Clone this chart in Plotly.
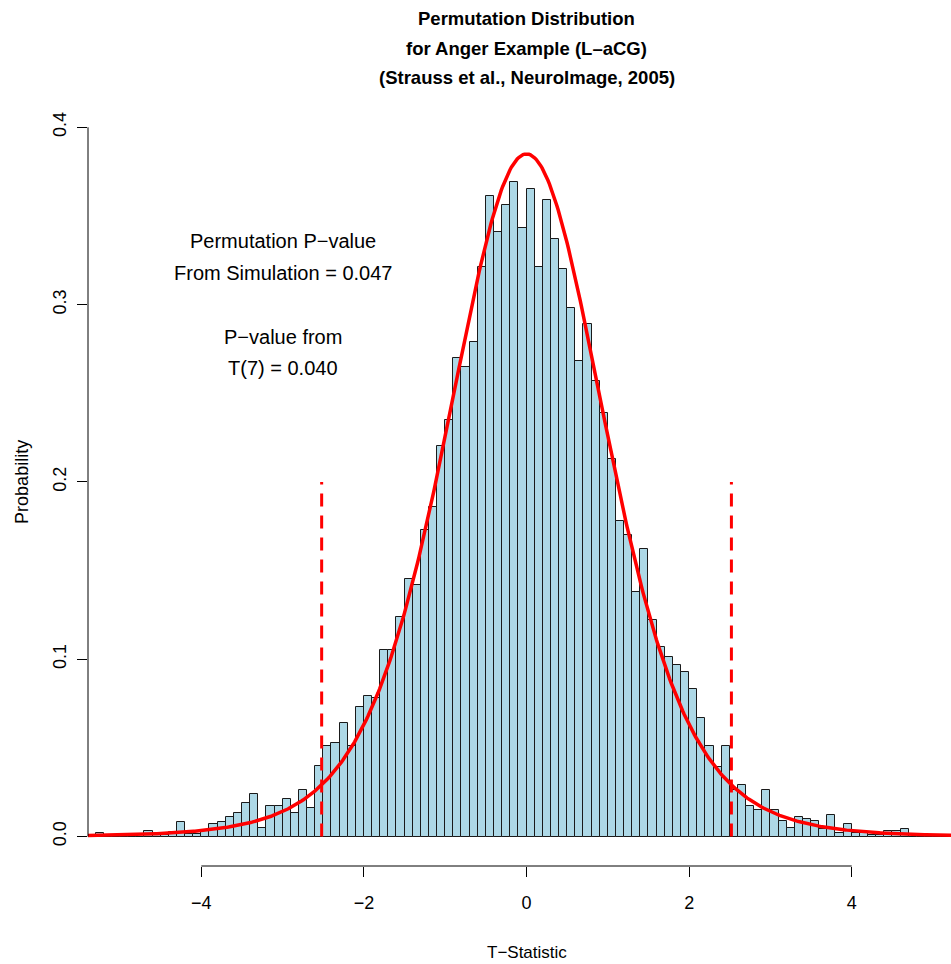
import math
import numpy as np
import plotly.graph_objects as go

# Permutation histogram: bins of width 0.1 starting at -5.3
BIN_START = -5.3
BIN_WIDTH = 0.1
probability = [
    0.002, 0.0, 0.0, 0.0, 0.0, 0.0, 0.003, 0.001, 0.001, 0.0025,   # -5.3 .. -4.4
    0.008, 0.0013, 0.0015, 0.0033, 0.007, 0.008, 0.011, 0.013, 0.019, 0.024,  # -4.3 .. -3.4
    0.0047, 0.017, 0.017, 0.021, 0.013, 0.026, 0.016, 0.040, 0.051, 0.053,  # -3.3 .. -2.4
    0.064, 0.051, 0.073, 0.079, 0.078, 0.105, 0.105, 0.124, 0.145, 0.142,  # -2.3 .. -1.4
    0.173, 0.186, 0.220, 0.235, 0.270, 0.265, 0.279, 0.321, 0.361, 0.341,  # -1.3 .. -0.4
    0.356, 0.369, 0.343, 0.365, 0.321, 0.359, 0.337, 0.320, 0.298, 0.268,  # -0.3 .. 0.6
    0.289, 0.257, 0.239, 0.213, 0.178, 0.170, 0.138, 0.162, 0.122, 0.107,  # 0.7 .. 1.6
    0.101, 0.097, 0.093, 0.083, 0.067, 0.051, 0.039, 0.051, 0.026, 0.029,  # 1.7 .. 2.6
    0.017, 0.015, 0.026, 0.015, 0.009, 0.005, 0.011, 0.010, 0.009, 0.004,  # 2.7 .. 3.6
    0.012, 0.002, 0.007, 0.002, 0.002, 0.001, 0.001, 0.003, 0.003, 0.004,  # 3.7 .. 4.6
    0.0, 0.0005, 0.0, 0.0, 0.0, 0.001,                                        # 4.7 .. 5.2
]

observed_t = 2.52          # observed statistic (two-sided, dashed lines at +/-)
dfree = 7                  # degrees of freedom of the reference t distribution
x_ticks = [-4, -2, 0, 2, 4]
y_ticks = [0.0, 0.1, 0.2, 0.3, 0.4]
y_ticklabels = ["0.0", "0.1", "0.2", "0.3", "0.4"]

title_lines = [
    "Permutation Distribution",
    "for Anger Example (L\u2013aCG)",
    "(Strauss et al., NeuroImage, 2005)",
]
note_lines = [
    "Permutation P\u2212value",
    "From Simulation = 0.047",
    "P\u2212value from",
    "T(7) = 0.040",
]

FONT = "Liberation Sans Narrow, Arial Narrow, Liberation Sans, Arial, sans-serif"

centers = [round(BIN_START + BIN_WIDTH * (i + 0.5), 3) for i in range(len(probability))]

def t_pdf(x, k):
    c = math.gamma((k + 1) / 2) / (math.sqrt(k * math.pi) * math.gamma(k / 2))
    return c * (1 + x * x / k) ** (-(k + 1) / 2)

xr = [-5.394, 5.221]
yr = [-0.01664, 0.4154]

curve_x = np.linspace(xr[0], 5.4, 600)
curve_y = [t_pdf(v, dfree) for v in curve_x]

fig = go.Figure()
fig.add_trace(go.Bar(
    x=centers, y=probability, width=BIN_WIDTH,
    marker=dict(color="#ADD8E6", line=dict(color="#1a1a1a", width=1)),
    hoverinfo="skip",
))
fig.add_trace(go.Scatter(
    x=curve_x, y=curve_y, mode="lines",
    line=dict(color="#FF0000", width=3.5), hoverinfo="skip",
))
for sgn in (-1, 1):
    fig.add_trace(go.Scatter(
        x=[sgn * observed_t, sgn * observed_t], y=[0, 0.2], mode="lines",
        line=dict(color="#FF0000", width=3, dash="13px,9px"), hoverinfo="skip",
    ))

# R-style axes: x axis line spans the tick range only, y axis line 0..0.4
fig.add_shape(type="line", xref="x", yref="paper", x0=x_ticks[0], x1=x_ticks[-1],
              y0=0, y1=0, line=dict(color="black", width=1))
fig.add_shape(type="line", xref="paper", yref="y", x0=0, x1=0,
              y0=y_ticks[0], y1=y_ticks[-1], line=dict(color="black", width=1))

annotations = []
for i, line in enumerate(title_lines):
    annotations.append(dict(
        text="<b>%s</b>" % line, xref="x", yref="paper", x=0,
        y=(866 - (18 + 30 * i)) / 766, xanchor="center", yanchor="middle",
        showarrow=False, font=dict(family=FONT, size=18.5, color="black"),
    ))
note_y = [0.336, 0.318, 0.282, 0.264]
for line, yy in zip(note_lines, note_y):
    annotations.append(dict(
        text=line, xref="x", yref="y", x=-3.0, y=yy,
        xanchor="center", yanchor="middle", showarrow=False,
        font=dict(family=FONT, size=20, color="black"),
    ))
annotations.append(dict(
    text="T\u2212Statistic", xref="x", yref="paper", x=0, y=(866 - 952) / 766,
    xanchor="center", yanchor="middle", showarrow=False,
    font=dict(family=FONT, size=17, color="black"),
))
annotations.append(dict(
    text="Probability", xref="paper", yref="y", x=(22 - 88) / 863, y=0.2,
    xanchor="center", yanchor="middle", textangle=-90, showarrow=False,
    font=dict(family=FONT, size=18, color="black"),
))

fig.update_layout(
    width=951, height=964,
    margin=dict(l=88, r=0, t=100, b=98),
    paper_bgcolor="white", plot_bgcolor="white",
    showlegend=False, bargap=0,
    annotations=annotations,
    font=dict(family=FONT, color="black"),
    xaxis=dict(
        range=xr, tickmode="array", tickvals=x_ticks,
        ticks="outside", ticklen=10, tickwidth=1, tickcolor="black",
        showgrid=False, zeroline=False, showline=False,
        tickfont=dict(family=FONT, size=18, color="black"),
        ticklabelstandoff=10,
    ),
    yaxis=dict(
        range=yr, tickmode="array", tickvals=y_ticks, ticktext=y_ticklabels,
        ticks="outside", ticklen=10, tickwidth=1, tickcolor="black",
        showgrid=False, zeroline=False, showline=False, tickangle=-90,
        tickfont=dict(family=FONT, size=18, color="black"),
        ticklabelstandoff=4,
    ),
)

fig.write_html("out.html")
